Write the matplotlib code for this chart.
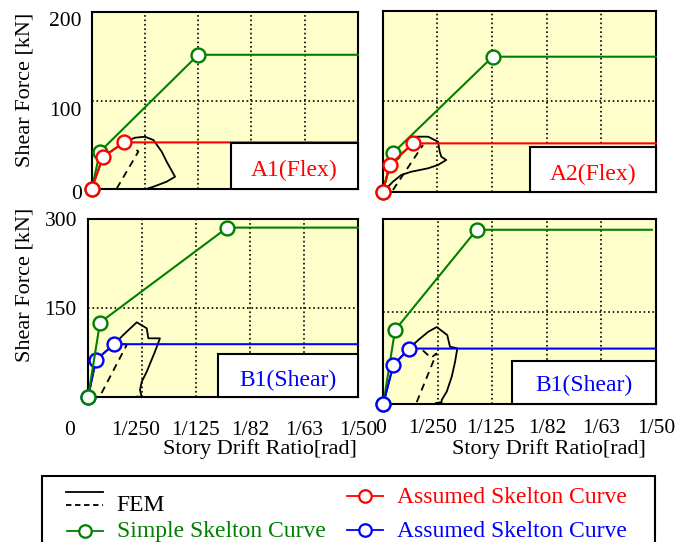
import matplotlib.pyplot as plt
from matplotlib.patches import Rectangle
from matplotlib.transforms import ScaledTranslation

plt.rcParams['font.family'] = ['Liberation Serif', 'DejaVu Serif']

# x axis: story drift ratio [rad], labels written as 1/n
drift_ticks = [0, 0.004, 0.008, 0.012, 0.016, 0.020]
drift_labels = ['0', '1/250', '1/125', '1/82', '1/63', '1/50']

# ---- A1 (Flex) ----
a1_fem_x = [0, 0.00087, 0.0025, 0.00325, 0.0040, 0.00463, 0.00526, 0.00563, 0.00626, 0.00563, 0.00463, 0.00425]
a1_fem_y = [1, 36.8, 53.8, 58.3, 59.4, 55.7, 42.5, 31.2, 14.2, 8.6, 2.9, 1.1]
a1_unload_x = [0.00188, 0.0035, 0.0031]
a1_unload_y = [0.9, 42.5, 48.9]
a1_simple_x = [0, 0.00062, 0.0080, 0.0200]
a1_simple_y = [0, 42.5, 152, 152]
a1_assumed_x = [0, 0.00082, 0.00242, 0.0200]
a1_assumed_y = [0, 36.2, 53, 53]

# ---- A2 (Flex) ----
a2_fem_x = [0, 0.00053, 0.00127, 0.0022, 0.00246, 0.00332, 0.00405, 0.00417, 0.00429, 0.00465,
            0.00405, 0.00332, 0.00209, 0.00136, 0.00075, 0.0003]
a2_fem_y = [0, 29.6, 40.6, 52.8, 60.9, 60.9, 55.3, 44.3, 38.7, 35.1, 29.6, 25.9, 22.1, 18.5, 11.1, 4]
a2_unload_x = [0.00075, 0.00295]
a2_unload_y = [1.9, 51.7]
a2_simple_x = [0, 0.00078, 0.00805, 0.0200]
a2_simple_y = [0, 43.2, 149.4, 149.4]
a2_assumed_x = [0, 0.00053, 0.0022, 0.0200]
a2_assumed_y = [0, 29.6, 53.5, 53.5]

# ---- B1 (Shear), left ----
b1l_fem_x = [0, 0.00059, 0.00193, 0.00261, 0.00361, 0.00435, 0.00447, 0.00533, 0.00496, 0.00435,
             0.00398, 0.00385, 0.00398, 0.00361]
b1l_fem_y = [0, 62.9, 89.3, 105, 126.4, 116.3, 99.4, 99.4, 76.9, 43.1, 26.3, 12.3, 1, 1]
b1l_unload_x = [0.0010, 0.00287, 0.00237]
b1l_unload_y = [7, 88.3, 91.6]
b1l_simple_x = [0, 0.00089, 0.01032, 0.0200]
b1l_simple_y = [0, 126, 286, 286]
b1l_assumed_x = [0, 0.00059, 0.00193, 0.0200]
b1l_assumed_y = [0, 63, 89.5, 89.5]

# ---- B1 (Shear), right ----
b1r_fem_x = [0, 0.00073, 0.00191, 0.00257, 0.0033, 0.00392, 0.00469, 0.00489, 0.00543, 0.00526,
             0.00502, 0.00465, 0.00428, 0.00428, 0.00387]
b1r_fem_y = [0, 63.3, 90.5, 104, 117.4, 125, 112, 93, 90.5, 68.2, 44.3, 20, 6.5, 3, 1.6]
b1r_unload_x = [0.00245, 0.0039, 0.0035, 0.0028]
b1r_unload_y = [3, 82, 75, 89]
b1r_simple_x = [0, 0.00086, 0.00685, 0.0197]
b1r_simple_y = [0, 120, 283, 283]
b1r_assumed_x = [0, 0.00073, 0.00191, 0.0200]
b1r_assumed_y = [0, 63.3, 90, 90]

BG = '#ffffcc'
GREEN = '#008000'
W, H = 693, 542

fig = plt.figure(figsize=(W / 100, H / 100), dpi=100)


def px_axes(left, top, right, bottom):
    # axes rectangle given in pixel coordinates of the reference
    return fig.add_axes([left / W, 1 - bottom / H, (right - left) / W, (bottom - top) / H])


def shift(label, dx, dy):
    label.set_transform(label.get_transform() + ScaledTranslation(dx / 100, dy / 100, fig.dpi_scale_trans))


def skeleton(ax, x, y, color, z):
    ax.plot(x, y, color=color, lw=1.5, marker='o', markevery=[0, 1, 2], ms=10,
            mfc='white', mec=color, mew=1.7, clip_on=False, zorder=z)


def panel(ax, ymax, fem_x, fem_y, un_x, un_y):
    ax.set_facecolor(BG)
    ax.set_xlim(0, 0.02)
    ax.set_ylim(0, ymax)
    ax.set_xticks(drift_ticks)
    ax.set_yticks([0, ymax / 2, ymax])
    ax.grid(True, color='black', ls=':', lw=1.2)
    ax.tick_params(length=0, labelsize=15.5)
    for s in ax.spines.values():
        s.set_linewidth(1.5)
    ax.plot(fem_x, fem_y, color='black', lw=1.3, zorder=2)
    ax.plot(un_x, un_y, color='black', lw=1.3, ls=(0, (4, 3)), zorder=2)


def tag(ax, left, top, tx, ty, text, color):
    ax.add_patch(Rectangle((left, 0), 1 - left, top, transform=ax.transAxes, fc='white',
                           ec='black', lw=1.5, zorder=5, clip_on=False))
    ax.text(tx, ty, text, transform=ax.transAxes, ha='center', va='center',
            fontsize=17, color=color, zorder=6)


ax1 = px_axes(91.7, 12.3, 358, 189.3)
ax2 = px_axes(382.7, 11, 656, 191.7)
ax3 = px_axes(88, 219.3, 358, 397.3)
ax4 = px_axes(383.3, 219.3, 656, 404)

panel(ax1, 200, a1_fem_x, a1_fem_y, a1_unload_x, a1_unload_y)
skeleton(ax1, a1_simple_x, a1_simple_y, GREEN, 3)
skeleton(ax1, a1_assumed_x, a1_assumed_y, 'red', 4)
tag(ax1, 0.523, 0.262, 0.76, 0.109, 'A1(Flex)', 'red')

panel(ax2, 200, a2_fem_x, a2_fem_y, a2_unload_x, a2_unload_y)
skeleton(ax2, a2_simple_x, a2_simple_y, GREEN, 3)
skeleton(ax2, a2_assumed_x, a2_assumed_y, 'red', 4)
tag(ax2, 0.539, 0.249, 0.77, 0.098, 'A2(Flex)', 'red')

panel(ax3, 300, b1l_fem_x, b1l_fem_y, b1l_unload_x, b1l_unload_y)
skeleton(ax3, b1l_assumed_x, b1l_assumed_y, 'blue', 3)
skeleton(ax3, b1l_simple_x, b1l_simple_y, GREEN, 4)
tag(ax3, 0.483, 0.242, 0.742, 0.097, 'B1(Shear)', 'blue')

panel(ax4, 300, b1r_fem_x, b1r_fem_y, b1r_unload_x, b1r_unload_y)
skeleton(ax4, b1r_simple_x, b1r_simple_y, GREEN, 3)
skeleton(ax4, b1r_assumed_x, b1r_assumed_y, 'blue', 4)
tag(ax4, 0.471, 0.234, 0.736, 0.099, 'B1(Shear)', 'blue')

# tick labels
ax1.tick_params(labelbottom=False, pad=7)
ax2.tick_params(labelbottom=False, labelleft=False)
ax4.tick_params(labelleft=False)
ax1.set_yticklabels(['0', '100', '200'])
ax3.set_yticklabels(['', '150', '300'])
ax3.tick_params(axis='y', pad=8)
ax3.tick_params(axis='x', pad=17)
ax4.tick_params(axis='x', pad=11)
ax3.set_xticklabels(drift_labels)
ax4.set_xticklabels(drift_labels)

for lab, dy in zip(ax1.get_yticklabels(), [-3, -8, -7]):
    shift(lab, 0, dy)
for lab, dx in zip(ax3.get_xticklabels(), [-18, -6, 0, 0, 0, 0]):
    shift(lab, dx, 0)
for lab, dx in zip(ax4.get_xticklabels(), [-3, -5, -2, 0, 0, 0]):
    shift(lab, dx, 0)

ax1.text(-0.25, 0.561, 'Shear Force [kN]', transform=ax1.transAxes, rotation=90,
         ha='center', va='center', fontsize=16)
ax3.text(-0.233, 0.631, 'Shear Force [kN]', transform=ax3.transAxes, rotation=90,
         ha='center', va='center', fontsize=16)
ax3.text(0.637, -0.29, 'Story Drift Ratio[rad]', transform=ax3.transAxes,
         ha='center', va='center', fontsize=16)
ax4.text(0.608, -0.243, 'Story Drift Ratio[rad]', transform=ax4.transAxes,
         ha='center', va='center', fontsize=16)

# legend drawn in pixel space at the bottom
leg = fig.add_axes([0, 0, 1, 1], zorder=10)
leg.set_xlim(0, W)
leg.set_ylim(H, 0)
leg.axis('off')
leg.patch.set_alpha(0)
leg.add_patch(Rectangle((42.3, 476), 655 - 42.3, 100, fc='white', ec='black', lw=1.5))
leg.plot([66, 103.3], [491.7, 491.7], color='black', lw=1.3)
leg.plot([66, 103.3], [505, 505], color='black', lw=1.3, ls=(0, (3, 2)))
leg.text(116.7, 510.7, 'FEM', fontsize=17, va='baseline')
legend_rows = [(66.7, 531, GREEN, 'Simple Skelton Curve', 537.5),
               (346.7, 496, 'red', 'Assumed Skelton Curve', 503),
               (346.7, 530, 'blue', 'Assumed Skelton Curve', 536.7)]
for x0, y0, c, txt, base in legend_rows:
    leg.plot([x0, x0 + 36.6], [y0, y0], color=c, lw=1.3)
    leg.plot([x0 + 18.3], [y0], 'o', ms=9, mfc='white', mec=c, mew=1.6)
    leg.text(x0 + 50, base, txt, fontsize=17, color=c, va='baseline')

fig.savefig('out.png', dpi=100)
